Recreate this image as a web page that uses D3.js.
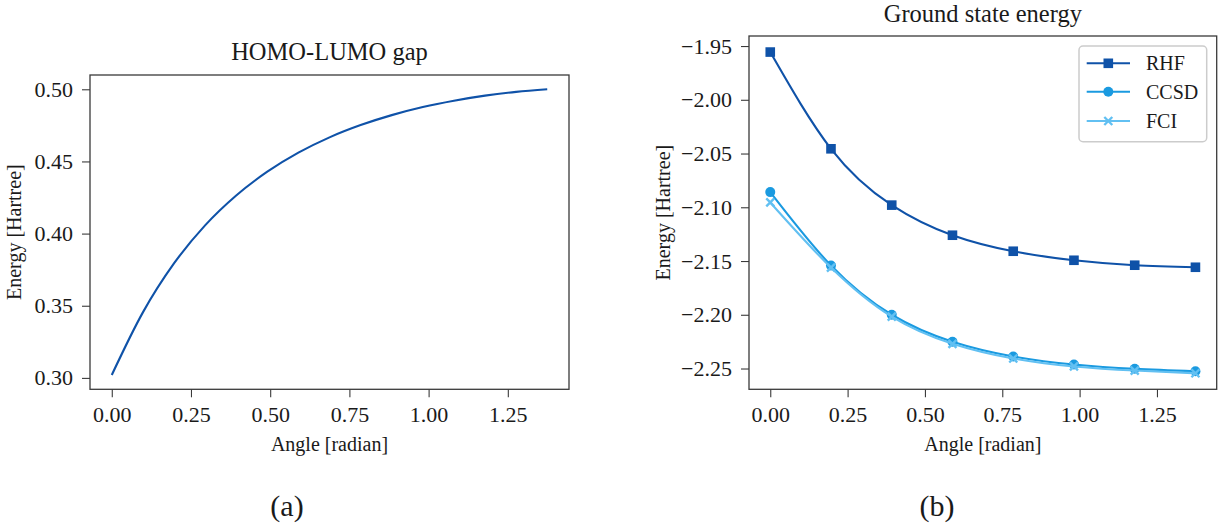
<!DOCTYPE html>
<html>
<head>
<meta charset="utf-8">
<script src="https://cdn.jsdelivr.net/npm/d3@7"></script>
<style>
  html, body { margin: 0; padding: 0; background: #fff; }
  svg { display: block; }
  text { font-family: "Liberation Serif", "DejaVu Serif", serif; fill: #1a1a1a; }
</style>
</head>
<body>
<svg id="chart" width="1225" height="524"></svg>
<script>
// ---------------- DATA ----------------
// (a) HOMO-LUMO gap, sampled at k*pi/32, k = 0..14 (read from the picture)
const gapAngles = [0, 0.0982, 0.1963, 0.2945, 0.3927, 0.4909, 0.5890, 0.6872, 0.7854, 0.8836, 0.9817, 1.0799, 1.1781, 1.2763, 1.3744];
const gapValues = [0.302, 0.3454, 0.3793, 0.4057, 0.4264, 0.4429, 0.4561, 0.4667, 0.4752, 0.4821, 0.4877, 0.4921, 0.4956, 0.4982, 0.5000];

// (b) Ground state energy, angles k*pi/16
const angles = [0, 0.1963, 0.3927, 0.5890, 0.7854, 0.9817, 1.1781, 1.3744];
const rhf  = [-1.9556, -2.0456, -2.0980, -2.1260, -2.1409, -2.1493, -2.1539, -2.1558];
const ccsd = [-2.0859, -2.1542, -2.2000, -2.2251, -2.2388, -2.2463, -2.2503, -2.2525];
const fci  = [-2.0955, -2.1561, -2.2018, -2.2270, -2.2407, -2.2481, -2.2519, -2.2544];
const seriesNames = ["RHF", "CCSD", "FCI"];

const xTicks = [0, 0.25, 0.5, 0.75, 1.0, 1.25];
const gapYTicks = [0.30, 0.35, 0.40, 0.45, 0.50];
const energyYTicks = [-2.25, -2.20, -2.15, -2.10, -2.05, -2.00, -1.95];

// ---------------- STYLE ----------------
const C_RHF = "#0f52a8", C_CCSD = "#1a9ae0", C_FCI = "#62c0f2";
const FRAME = "#3a3a3a";
const TICK_FONT = 22, LABEL_FONT = 20, TITLE_FONT = 24.5;

const svg = d3.select("#chart");

function padded(ext) {
  const p = (ext[1] - ext[0]) * 0.05;
  return [ext[0] - p, ext[1] + p];
}

function drawAxes(g, x, y, yTicks, yFmt, title, titleY, yLabelX) {
  const [x0, x1] = x.range();
  const [yb, yt] = y.range();
  const xa = g.append("g").attr("transform", `translate(0,${yb})`)
    .call(d3.axisBottom(x).tickValues(xTicks).tickFormat(d3.format(".2f")).tickSize(8).tickSizeOuter(0).tickPadding(9));
  const ya = g.append("g").attr("transform", `translate(${x0},0)`)
    .call(d3.axisLeft(y).tickValues(yTicks).tickFormat(yFmt).tickSize(8).tickSizeOuter(0).tickPadding(9));
  [xa, ya].forEach(a => {
    a.select(".domain").remove();
    a.selectAll(".tick line").attr("stroke", FRAME).attr("stroke-width", 1.1);
    a.selectAll(".tick text").style("font-size", TICK_FONT + "px").attr("fill", "#1a1a1a");
  });
  g.append("rect").attr("x", x0).attr("y", yt).attr("width", x1 - x0).attr("height", yb - yt)
    .attr("fill", "none").attr("stroke", FRAME).attr("stroke-width", 1.3);
  g.append("text").attr("x", (x0 + x1) / 2).attr("y", titleY).attr("text-anchor", "middle")
    .style("font-size", TITLE_FONT + "px").text(title);
  g.append("text").attr("x", (x0 + x1) / 2).attr("y", 451).attr("text-anchor", "middle")
    .style("font-size", LABEL_FONT + "px").text("Angle [radian]");
  g.append("text").attr("transform", `translate(${yLabelX},${(yb + yt) / 2}) rotate(-90)`)
    .attr("text-anchor", "middle").style("font-size", LABEL_FONT + "px").text("Energy [Hartree]");
}

// ---------------- (a) ----------------
{
  const g = svg.append("g");
  const x = d3.scaleLinear().domain(padded(d3.extent(gapAngles))).range([90, 569]);
  const y = d3.scaleLinear().domain(padded(d3.extent(gapValues))).range([389.3, 75]);
  const line = d3.line().x((d, i) => x(gapAngles[i])).y(d => y(d)).curve(d3.curveMonotoneX);
  g.append("path").datum(gapValues).attr("d", line).attr("fill", "none")
    .attr("stroke", C_RHF).attr("stroke-width", 2.1);
  drawAxes(g, x, y, gapYTicks, d3.format(".2f"), "HOMO-LUMO gap", 60, 21);
  svg.append("text").attr("x", 287).attr("y", 516).attr("text-anchor", "middle")
    .style("font-size", "30px").text("(a)");
}

// ---------------- (b) ----------------
{
  const g = svg.append("g");
  const all = rhf.concat(ccsd, fci);
  const x = d3.scaleLinear().domain(padded(d3.extent(angles))).range([749, 1216.7]);
  const y = d3.scaleLinear().domain(padded(d3.extent(all))).range([389.3, 36]);
  const line = d3.line().x((d, i) => x(angles[i])).y(d => y(d)).curve(d3.curveNatural);
  const series = [
    { name: seriesNames[0], vals: rhf, color: C_RHF, marker: "square" },
    { name: seriesNames[1], vals: ccsd, color: C_CCSD, marker: "circle" },
    { name: seriesNames[2], vals: fci, color: C_FCI, marker: "x" }
  ];
  function marker(sel, type, color, cx, cy) {
    if (type === "square") {
      sel.append("rect").attr("x", cx - 4.8).attr("y", cy - 4.8).attr("width", 9.6).attr("height", 9.6)
        .attr("fill", color);
    } else if (type === "circle") {
      sel.append("circle").attr("cx", cx).attr("cy", cy).attr("r", 5).attr("fill", color);
    } else {
      const r = 4;
      sel.append("path").attr("d", `M${cx - r},${cy - r}L${cx + r},${cy + r}M${cx - r},${cy + r}L${cx + r},${cy - r}`)
        .attr("stroke", color).attr("stroke-width", 2.4).attr("fill", "none");
    }
  }
  series.forEach(s => {
    g.append("path").datum(s.vals).attr("d", line).attr("fill", "none")
      .attr("stroke", s.color).attr("stroke-width", 2.1);
    const mg = g.append("g");
    s.vals.forEach((v, i) => marker(mg, s.marker, s.color, x(angles[i]), y(v)));
  });
  drawAxes(g, x, y, energyYTicks, d3.format(".2f"), "Ground state energy", 22, 670);

  const lg = g.append("g");
  lg.append("rect").attr("x", 1079).attr("y", 46).attr("width", 127.7).attr("height", 95.7)
    .attr("rx", 4).attr("fill", "#fff").attr("fill-opacity", 0.8)
    .attr("stroke", "#cccccc").attr("stroke-width", 1.5);
  const rowsY = [63.3, 91.7, 121];
  series.forEach((s, i) => {
    const cy = rowsY[i];
    lg.append("line").attr("x1", 1086.7).attr("x2", 1130).attr("y1", cy).attr("y2", cy)
      .attr("stroke", s.color).attr("stroke-width", 2.1);
    marker(lg, s.marker, s.color, 1108.3, cy);
    lg.append("text").attr("x", 1146).attr("y", cy).attr("dy", "0.35em")
      .style("font-size", "20px").text(s.name);
  });
  svg.append("text").attr("x", 937).attr("y", 516).attr("text-anchor", "middle")
    .style("font-size", "30px").text("(b)");
}
</script>
</body>
</html>
